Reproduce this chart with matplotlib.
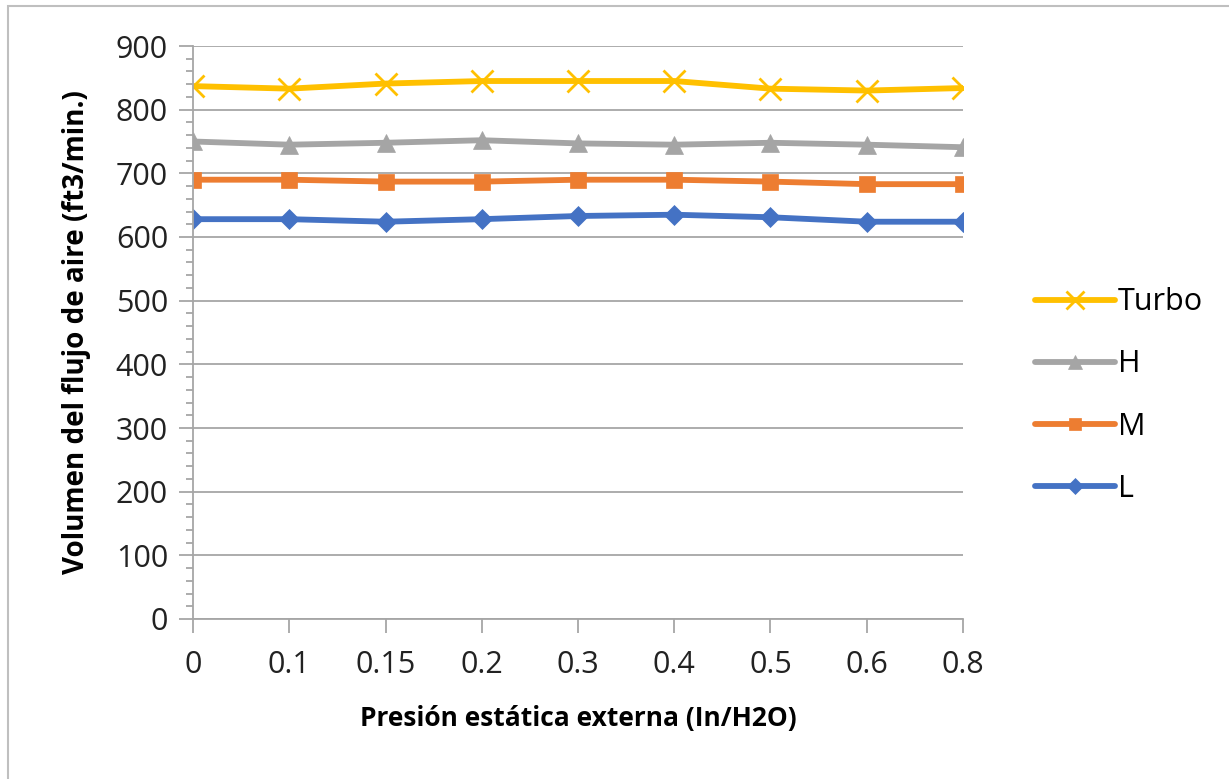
import matplotlib.pyplot as plt
from matplotlib.patches import Rectangle

# Data
presion = ['0', '0.1', '0.15', '0.2', '0.3', '0.4', '0.5', '0.6', '0.8']
turbo = [837, 833, 841, 845, 845, 845, 833, 830, 834]
h_vals = [750, 745, 748, 752, 747, 745, 748, 745, 741]
m_vals = [690, 690, 687, 687, 690, 690, 687, 683, 683]
l_vals = [628, 628, 624, 628, 633, 635, 631, 624, 624]

series = [
    ('Turbo', turbo, '#FFC000', 'x', 16),
    ('H', h_vals, '#A5A5A5', '^', 13),
    ('M', m_vals, '#ED7D31', 's', 11),
    ('L', l_vals, '#4472C4', 'D', 10),
]

plt.rcParams['font.family'] = ['Open Sans', 'DejaVu Sans']
grid_col = '#A6A6A6'

fig = plt.figure(figsize=(12.29, 7.79), dpi=100)
ax = fig.add_axes([193 / 1229, 1 - 619 / 779, 770 / 1229, 573 / 779])

pos = list(range(len(presion)))
for name, vals, col, mk, ms in series:
    ax.plot(pos, vals, color=col, linewidth=4.2, marker=mk, markersize=ms,
            markeredgewidth=2 if mk == 'x' else 0.5, markeredgecolor=col,
            label=name, solid_capstyle='round')

ax.set_xlim(0, len(presion) - 1)
ax.set_ylim(0, 900)
ax.set_xticks(pos)
ax.set_xticklabels(presion)
ax.set_yticks(range(0, 901, 100))
ax.set_yticks(range(0, 901, 20), minor=True)
ax.grid(axis='y', which='major', color=grid_col, linewidth=1.3)
ax.set_axisbelow(True)

for s in ['top', 'right']:
    ax.spines[s].set_visible(False)
for s in ['left', 'bottom']:
    ax.spines[s].set_color(grid_col)
    ax.spines[s].set_linewidth(1.3)

ax.tick_params(axis='y', which='major', length=10, width=1.3, color=grid_col,
               labelsize=22, pad=8, labelcolor='#222222')
ax.tick_params(axis='y', which='minor', length=5, width=1.3, color=grid_col)
ax.tick_params(axis='x', which='major', length=10, width=1.3, color=grid_col,
               labelsize=22, pad=12, labelcolor='#222222')

ax.set_ylabel('Volumen del flujo de aire (ft3/min.)', fontsize=20,
              fontweight='bold', labelpad=18)
ax.set_xlabel('Presión estática externa (In/H2O)', fontsize=19,
              fontweight='bold', labelpad=18)

ax.legend(loc='center left', bbox_to_anchor=(1.094, 0.39), frameon=False,
          fontsize=22, labelspacing=1.05, handlelength=2.6, handletextpad=0.1,
          borderaxespad=0, borderpad=0, markerscale=0.8)

# outer chart border
fig.patches.append(Rectangle((8 / 1229, -0.05), 1.2, 1 - 6 / 779 + 0.05,
                             transform=fig.transFigure, fill=False,
                             edgecolor='#BFBFBF', linewidth=1.5))

fig.savefig('out.png', dpi=100)
